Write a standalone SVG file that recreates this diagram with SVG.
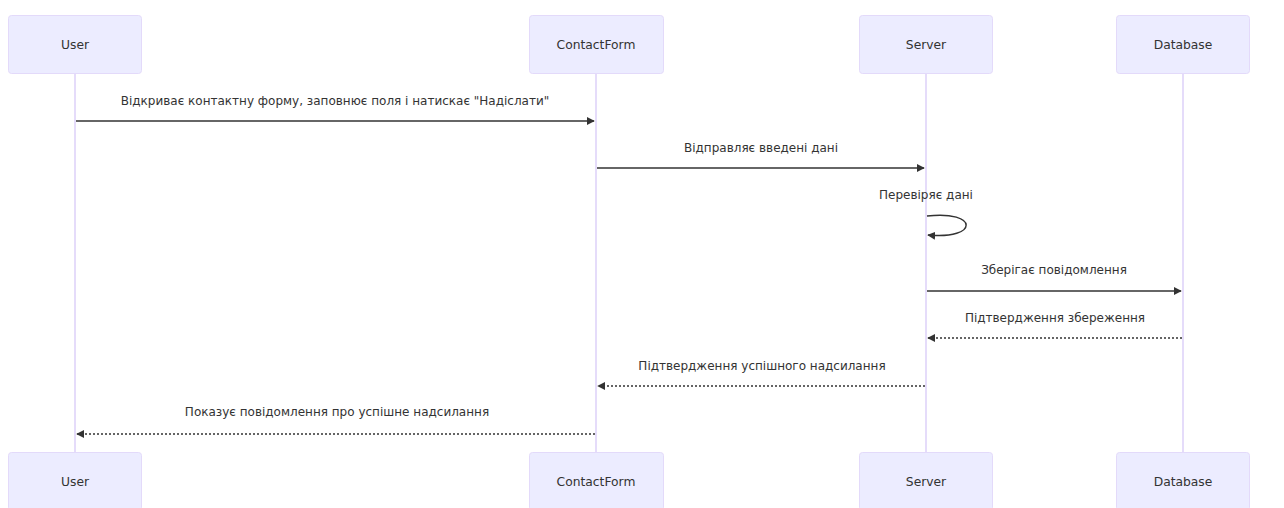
<svg xmlns="http://www.w3.org/2000/svg" width="1284" height="508" viewBox="0 0 1284 508">
  <style>
    .actor rect { fill: #ECECFF; stroke: #E3DAFA; stroke-width: 1; }
    .actor text { font-family: "DejaVu Sans", "Open Sans", sans-serif; font-size: 12.3px; fill: #333; text-anchor: middle; dominant-baseline: central; }
    .life { stroke: #DCD0F8; stroke-width: 1.5; fill: none; }
    .msg { stroke: #333; stroke-width: 1.5; fill: none; }
    .ret { stroke: #333; stroke-width: 1.5; fill: none; stroke-dasharray: 2 2; }
    .lbl { font-family: "DejaVu Sans", "Open Sans", sans-serif; font-size: 12px; fill: #333; text-anchor: middle; }
  </style>
  <defs>
    <marker id="arrowhead" viewBox="0 0 10 10" refX="9" refY="5" markerWidth="8" markerHeight="8" markerUnits="userSpaceOnUse" orient="auto">
      <path d="M0,0 L10,5 L0,10 z" fill="#333"/>
    </marker>
  </defs>

  <!-- lifelines -->
  <g id="lifelines">
    <line class="life" x1="75" y1="73" x2="75" y2="452"/>
    <line class="life" x1="596" y1="73" x2="596" y2="452"/>
    <line class="life" x1="926" y1="73" x2="926" y2="452"/>
    <line class="life" x1="1183" y1="73" x2="1183" y2="452"/>
  </g>

  <!-- participants, top -->
  <g id="user-top" class="actor"><rect x="8.5" y="15.5" width="133" height="58" rx="3"/><text x="75" y="45">User</text></g>
  <g id="contactform-top" class="actor"><rect x="529.5" y="15.5" width="134" height="58" rx="3"/><text x="596" y="45">ContactForm</text></g>
  <g id="server-top" class="actor"><rect x="859.5" y="15.5" width="133" height="58" rx="3"/><text x="926" y="45">Server</text></g>
  <g id="database-top" class="actor"><rect x="1116.5" y="15.5" width="133" height="58" rx="3"/><text x="1183" y="45">Database</text></g>

  <!-- participants, bottom -->
  <g id="user-bottom" class="actor"><rect x="8.5" y="452.5" width="133" height="58" rx="3"/><text x="75" y="482">User</text></g>
  <g id="contactform-bottom" class="actor"><rect x="529.5" y="452.5" width="134" height="58" rx="3"/><text x="596" y="482">ContactForm</text></g>
  <g id="server-bottom" class="actor"><rect x="859.5" y="452.5" width="133" height="58" rx="3"/><text x="926" y="482">Server</text></g>
  <g id="database-bottom" class="actor"><rect x="1116.5" y="452.5" width="133" height="58" rx="3"/><text x="1183" y="482">Database</text></g>

  <!-- messages -->
  <g id="connectors">
    <text class="lbl" x="335" y="105">Відкриває контактну форму, заповнює поля і натискає "Надіслати"</text>
    <line class="msg" x1="76" y1="121" x2="594" y2="121" marker-end="url(#arrowhead)"/>

    <text class="lbl" x="761" y="152">Відправляє введені дані</text>
    <line class="msg" x1="597" y1="168" x2="924" y2="168" marker-end="url(#arrowhead)"/>

    <text class="lbl" x="926" y="199">Перевіряє дані</text>
    <path class="msg" d="M927,216 C979,210 979,240 928,235" marker-end="url(#arrowhead)"/>

    <text class="lbl" x="1054" y="274">Зберігає повідомлення</text>
    <line class="msg" x1="927" y1="291" x2="1181" y2="291" marker-end="url(#arrowhead)"/>

    <text class="lbl" x="1055" y="322">Підтвердження збереження</text>
    <line class="ret" x1="1182" y1="338" x2="928" y2="338" marker-end="url(#arrowhead)"/>

    <text class="lbl" x="762" y="370">Підтвердження успішного надсилання</text>
    <line class="ret" x1="925" y1="386" x2="598" y2="386" marker-end="url(#arrowhead)"/>

    <text class="lbl" x="337" y="416">Показує повідомлення про успішне надсилання</text>
    <line class="ret" x1="595" y1="434" x2="77" y2="434" marker-end="url(#arrowhead)"/>
  </g>
</svg>
